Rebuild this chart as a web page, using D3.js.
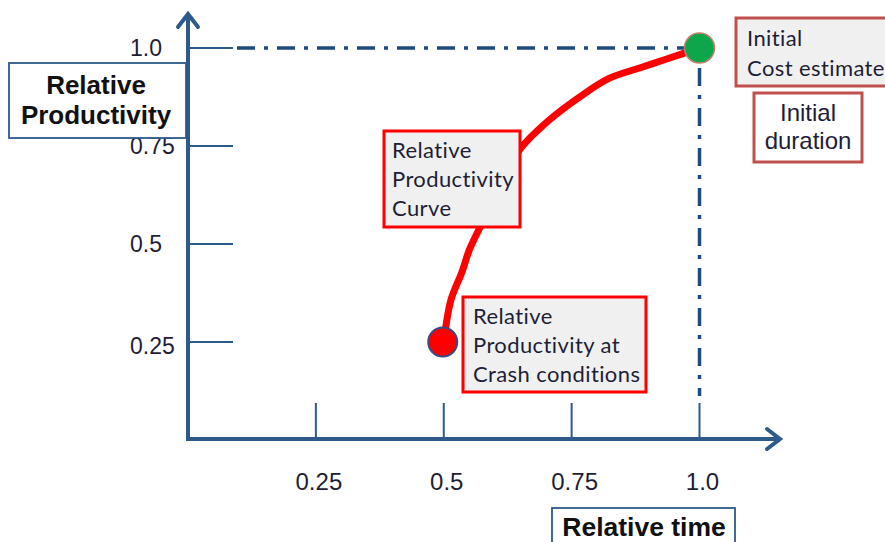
<!DOCTYPE html>
<html>
<head>
<meta charset="utf-8">
<script src="https://cdn.jsdelivr.net/npm/d3@7"></script>
<style>
  html, body { margin: 0; padding: 0; background: #ffffff; }
  svg { display: block; }
</style>
</head>
<body>
<svg id="chart" width="885" height="542"></svg>
<script>
// Relative productivity vs. relative time
const tickValues = [0.25, 0.5, 0.75, 1.0];
const tickLabels = ["0.25", "0.5", "0.75", "1.0"];

// Relative productivity curve (time, productivity)
const curveTime = [0.5, 0.503, 0.514, 0.536, 0.55, 0.571, 0.61, 0.648, 0.706, 0.771, 0.824, 0.883, 0.936, 1.0];
const curveProd = [0.25, 0.28, 0.357, 0.43, 0.485, 0.543, 0.645, 0.74, 0.816, 0.88, 0.923, 0.949, 0.972, 1.0];

const crashPoint = { time: 0.5, prod: 0.25 };
const initialPoint = { time: 1.0, prod: 1.0 };

const svg = d3.select("#chart");
const x = d3.scaleLinear().domain([0, 1]).range([188, 699.5]);
const y = d3.scaleLinear().domain([0, 1]).range([440, 48]);

const axisColor = "#2d5a8a";
const labelColor = "#1e1e36";

// Reference lines at the initial point
const dashPattern = "18,9,4,9";
svg.append("line")
  .attr("x1", x(0) + 49).attr("x2", x(initialPoint.time) - 12)
  .attr("y1", y(initialPoint.prod)).attr("y2", y(initialPoint.prod))
  .attr("stroke", "#1f4a7e").attr("stroke-width", 3.5)
  .attr("stroke-dasharray", dashPattern);
svg.append("line")
  .attr("x1", x(initialPoint.time)).attr("x2", x(initialPoint.time))
  .attr("y1", y(initialPoint.prod) + 20).attr("y2", y(0) - 44)
  .attr("stroke", "#1f4a7e").attr("stroke-width", 3.5)
  .attr("stroke-dasharray", dashPattern);

// Tick marks
svg.selectAll(".ytick").data(tickValues).enter().append("line")
  .attr("x1", x(0)).attr("x2", x(0) + 45)
  .attr("y1", d => y(d)).attr("y2", d => y(d))
  .attr("stroke", axisColor).attr("stroke-width", 2);
svg.selectAll(".xtick").data(tickValues).enter().append("line")
  .attr("x1", d => x(d)).attr("x2", d => x(d))
  .attr("y1", y(0) - 37).attr("y2", y(0))
  .attr("stroke", axisColor).attr("stroke-width", 2);

// Tick labels
svg.selectAll(".ylab").data(tickValues).enter().append("text")
  .attr("x", 130).attr("y", d => y(d) + (d < 0.3 ? 12 : 8))
  .attr("font-family", "Liberation Sans, Arial, sans-serif")
  .attr("font-size", 23).attr("fill", labelColor)
  .text((d, i) => tickLabels[i]);
svg.selectAll(".xlab").data(tickValues).enter().append("text")
  .attr("x", d => x(d) + 3).attr("y", 490)
  .attr("text-anchor", "middle")
  .attr("font-family", "Liberation Sans, Arial, sans-serif")
  .attr("font-size", 24).attr("fill", labelColor)
  .text((d, i) => tickLabels[i]);

// Axes with arrowheads
const yTop = 13, xRight = 780;
svg.append("line")
  .attr("x1", x(0)).attr("x2", x(0)).attr("y1", y(0) + 1).attr("y2", yTop + 2)
  .attr("stroke", axisColor).attr("stroke-width", 4);
svg.append("path")
  .attr("d", `M${x(0) - 10},${yTop + 14} L${x(0)},${yTop + 1} L${x(0) + 10},${yTop + 14}`)
  .attr("fill", "none").attr("stroke", axisColor).attr("stroke-width", 4)
  .attr("stroke-linecap", "round");
svg.append("line")
  .attr("x1", x(0) - 1).attr("x2", xRight - 2).attr("y1", y(0) - 1).attr("y2", y(0) - 1)
  .attr("stroke", axisColor).attr("stroke-width", 4);
svg.append("path")
  .attr("d", `M${xRight - 13},${y(0) - 11} L${xRight},${y(0) - 1} L${xRight - 13},${y(0) + 9}`)
  .attr("fill", "none").attr("stroke", axisColor).attr("stroke-width", 4)
  .attr("stroke-linecap", "round");

// Productivity curve
const curvePts = curveTime.map((t, i) => [x(t), y(curveProd[i])]);
svg.append("path")
  .attr("d", d3.line().curve(d3.curveCatmullRom.alpha(0.5))(curvePts))
  .attr("fill", "none").attr("stroke", "#ff0000").attr("stroke-width", 7)
  .attr("stroke-linecap", "round");

// End points
svg.append("circle")
  .attr("cx", x(initialPoint.time)).attr("cy", y(initialPoint.prod)).attr("r", 15)
  .attr("fill", "#0ea64a").attr("stroke", "#c08070").attr("stroke-width", 1.5);
svg.append("circle")
  .attr("cx", x(crashPoint.time) - 1).attr("cy", y(crashPoint.prod)).attr("r", 14.5)
  .attr("fill", "#ff0000").attr("stroke", "#3b4a80").attr("stroke-width", 2);

// Callout boxes
function callout(bx, by, bw, bh, fill, stroke, sw, lines, opts) {
  svg.append("rect")
    .attr("x", bx).attr("y", by).attr("width", bw).attr("height", bh)
    .attr("fill", fill).attr("stroke", stroke).attr("stroke-width", sw);
  const t = svg.append("text")
    .attr("font-family", opts.family)
    .attr("font-size", opts.size)
    .attr("font-weight", opts.weight || "normal")
    .attr("letter-spacing", opts.spacing || 0)
    .attr("fill", opts.color || labelColor)
    .attr("text-anchor", opts.anchor || "start");
  lines.forEach((s, i) => {
    t.append("tspan").attr("x", opts.tx).attr("y", opts.ty + i * opts.lh).text(s);
  });
}

const calibriLike = "Lato, 'Open Sans', sans-serif";
const arialLike = "'Liberation Sans', Arial, sans-serif";

callout(9, 63, 177, 75, "#ffffff", axisColor, 1.8,
  ["Relative", "Productivity"],
  { family: arialLike, size: 26, weight: "bold", anchor: "middle", tx: 96, ty: 94, lh: 30, color: "#111111" });

callout(384, 131, 136, 96, "#f0f0f0", "#ff0000", 3,
  ["Relative", "Productivity", "Curve"],
  { family: calibriLike, size: 22, spacing: 0.4, tx: 392, ty: 158, lh: 29 });

callout(463, 297, 183, 95, "#f0f0f0", "#ff0000", 3,
  ["Relative", "Productivity at", "Crash conditions"],
  { family: calibriLike, size: 22, spacing: 0.4, tx: 473, ty: 324, lh: 29 });

callout(736, 18, 160, 68, "#f0f0f0", "#c0504d", 3,
  ["Initial", "Cost estimate"],
  { family: calibriLike, size: 22, spacing: 0.4, tx: 747, ty: 46, lh: 30 });

callout(754, 93, 108, 69, "#ffffff", "#c0504d", 3,
  ["Initial", "duration"],
  { family: arialLike, size: 24, anchor: "middle", tx: 808, ty: 121, lh: 28 });

callout(552, 508, 183, 50, "#ffffff", axisColor, 1.8,
  ["Relative time"],
  { family: arialLike, size: 26.5, weight: "bold", anchor: "middle", tx: 644, ty: 535.5, lh: 30, color: "#111111" });
</script>
</body>
</html>
